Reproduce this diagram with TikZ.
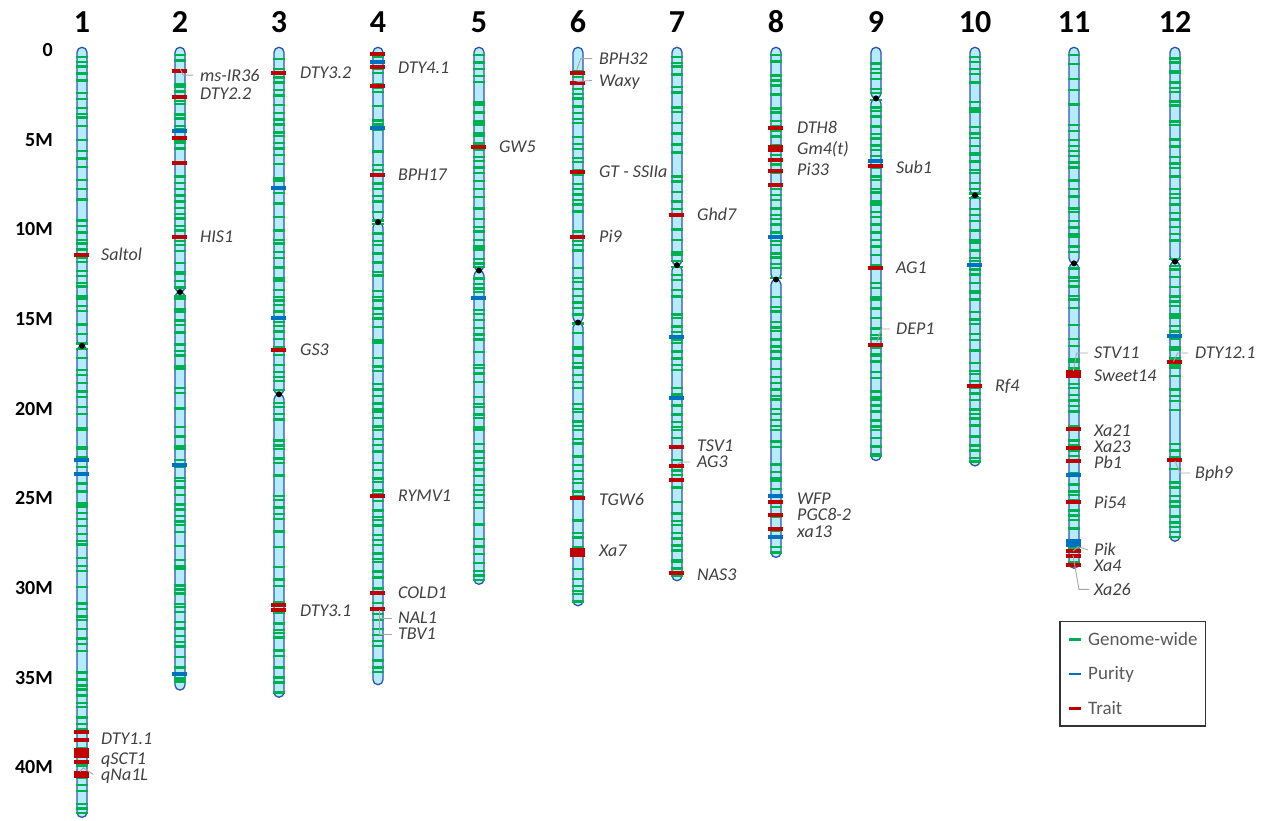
\documentclass[tikz,border=0pt]{standalone}
\usepackage{fontspec}
\setmainfont{Carlito}
\usepackage{tikz}
\usetikzlibrary{positioning}
\definecolor{gwgreen}{RGB}{0,176,80}
\definecolor{purblue}{RGB}{0,112,192}
\definecolor{traitred}{RGB}{192,0,0}
\definecolor{chrfill}{RGB}{180,236,251}
\definecolor{chredge}{RGB}{47,84,170}
\definecolor{labgray}{RGB}{64,64,64}
\definecolor{leggray}{RGB}{89,89,89}
\definecolor{leadgray}{RGB}{166,166,166}
\tikzset{
    arm/.style={
        draw=chredge,
        fill=chrfill,
        line width=1.3pt,
        rounded corners=5pt
    },
    gw/.style={
        draw=gwgreen,
        line width=2.4pt
    },
    pur/.style={
        draw=purblue,
        line width=4pt
    },
    trait/.style={
        draw=traitred,
        line width=4pt
    },
    cen/.style={
        circle,
        fill=black,
        inner sep=0pt,
        minimum size=6pt
    },
    gene/.style={
        anchor=west,
        inner sep=0pt,
        text height=11.9pt,
        text depth=0pt,
        text=labgray,
        font=\fontsize{18}{20}\selectfont\itshape
    },
    leader/.style={
        draw=leadgray,
        line width=0.9pt
    },
    chrnum/.style={
        font=\fontsize{32}{34}\selectfont\bfseries
    },
    axlab/.style={
        anchor=east,
        inner sep=0pt,
        font=\fontsize{20}{22}\selectfont\bfseries
    },
    legbox/.style={
        draw=black!80,
        line width=1.2pt
    },
    legtext/.style={
        anchor=west,
        inner sep=0pt,
        text height=12pt,
        text depth=0pt,
        text=leggray,
        font=\fontsize{19}{21}\selectfont
    }
}
% green markers along a chromosome
\newcommand{\gwticks}[3]{%
    \pgfmathsetseed{#3}
    \foreach \s in {0.2,0.55,...,#2}{
        \pgfmathsetmacro\yy{min(\s+0.3*rnd,#2-0.25)}
        \pgfmathtruncatemacro\keep{rnd>0.2}
        \ifnum\keep=1 \draw[gw] (#1-6,\yy) -- (#1+6,\yy);\fi
    }
}
% number, x, length, centromere, seed
\newcommand{\chrom}[5]{%
    \node[chrnum] (c#1) at (#2,-1.56) {#1};
    \draw[arm] (#2-5,-0.15) rectangle (#2+5,#4);
    \draw[arm] (#2-5,#4) rectangle (#2+5,#3);
    \gwticks{#2}{#3}{#5}
}
\begin{document}
\begin{tikzpicture}[x=1pt,y=-17.93pt]
\path[use as bounding box] (0pt,0pt) rectangle (1270pt,-821pt);
\begin{scope}[yshift=-50pt]

\foreach \m/\t in {0/0,5/5M,10/10M,15/15M,20/20M,25/25M,30/30M,35/35M,40/40M}
    \node[axlab] (ax\m) at (53,\m) {\t};

% 1
\chrom{1}{82}{42.8}{16.5}{11}
\foreach \y in {11.43,38.02,38.48,39.73} \draw[trait] (74,\y) -- (89,\y);
\draw[trait, line width=10.6pt] (74,39.21) -- (89,39.21);
\draw[trait, line width=7pt] (74,40.41) -- (89,40.41);
\foreach \y in {22.87,23.65} \draw[pur] (74,\y) -- (89,\y);
\node[cen] (cen1) at (82,16.5) {};
\node[gene] (saltol) at (101,11.43) {Saltol};
\node[gene] (dty11) at (101,38.4) {DTY1.1};
\node[gene] (qsct1) at (101,39.52) {qSCT1};
\node[gene] (qna1l) at (101,40.4) {qNa1L};
\draw[leader] (80,40.25) -- (83.3,40.03) -- ([xshift=-8pt]qna1l.west);

% 2
\chrom{2}{180}{35.7}{13.5}{22}
\foreach \y in {1.17,2.62,4.89,6.3,10.43} \draw[trait] (172,\y) -- (187,\y);
\foreach \y in {4.52,23.15,34.8} \draw[pur] (172,\y) -- (187,\y);
\node[cen] (cen2) at (180,13.5) {};
\node[gene] (msir36) at (200,1.4) {ms-IR36};
\node[gene] (dty22) at (200,2.45) {DTY2.2};
\node[gene] (his1) at (200,10.43) {HIS1};
\draw[leader] (180.3,1.08) -- (183.3,1.4) -- ([xshift=-7pt]msir36.west);

% 3
\chrom{3}{279}{36.1}{19.2}{33}
\foreach \y in {1.28,16.73,30.95,31.23} \draw[trait] (271,\y) -- (286,\y);
\foreach \y in {7.7,14.95} \draw[pur] (271,\y) -- (286,\y);
\node[cen] (cen3) at (279,19.2) {};
\node[gene] (dty32) at (300,1.28) {DTY3.2};
\node[gene] (gs3) at (300,16.73) {GS3};
\node[gene] (dty31) at (300,31.29) {DTY3.1};

% 4
\chrom{4}{378}{35.4}{9.6}{44}
\foreach \y in {0.22,0.93,1.99,6.97,24.87,30.28,31.18} \draw[trait] (370,\y) -- (385,\y);
\foreach \y in {0.67,4.33} \draw[pur] (370,\y) -- (385,\y);
\node[cen] (cen4) at (378,9.6) {};
\node[gene] (dty41) at (398,1.0) {DTY4.1};
\node[gene] (bph17) at (398,6.97) {BPH17};
\node[gene] (rymv1) at (398,24.87) {RYMV1};
\node[gene] (cold1) at (398,30.28) {COLD1};
\node[gene] (nal1) at (398,31.68) {NAL1};
\node[gene] (tbv1) at (398,32.57) {TBV1};
\draw[leader] (379.3,31.24) |- ([xshift=-6pt]tbv1.west);
\draw[leader] (379.3,31.68) -- ([xshift=-6pt]nal1.west);

% 5
\chrom{5}{479}{29.8}{12.3}{55}
\draw[trait] (471,5.41) -- (486,5.41);
\draw[pur] (471,13.83) -- (486,13.83);
\node[cen] (cen5) at (479,12.3) {};
\node[gene] (gw5) at (499,5.41) {GW5};

% 6
\chrom{6}{578}{31.0}{15.2}{66}
\foreach \y in {1.26,1.82,6.8,10.43,24.99} \draw[trait] (570,\y) -- (585,\y);
\draw[trait, line width=9pt] (570,28.05) -- (585,28.05);
\node[cen] (cen6) at (578,15.2) {};
\node[gene] (bph32) at (599,0.48) {BPH32};
\node[gene] (waxy) at (599,1.7) {Waxy};
\node[gene] (gtssiia) at (599,6.8) {GT - SSIIa};
\node[gene] (pi9) at (599,10.43) {Pi9};
\node[gene] (tgw6) at (599,25.1) {TGW6};
\node[gene] (xa7) at (599,27.94) {Xa7};
\draw[leader] (576.7,1.12) -- (580.7,0.48) -- ([xshift=-7pt]bph32.west);
\draw[leader] (576.7,1.76) -- ([xshift=-7pt]waxy.west);

% 7
\chrom{7}{677}{29.6}{12.0}{77}
\foreach \y in {9.2,22.12,23.18,23.98,29.17} \draw[trait] (669,\y) -- (684,\y);
\foreach \y in {16.0,19.41} \draw[pur] (669,\y) -- (684,\y);
\node[cen] (cen7) at (677,12.0) {};
\node[gene] (ghd7) at (697,9.2) {Ghd7};
\node[gene] (tsv1) at (697,22.06) {TSV1};
\node[gene] (ag3) at (697,22.98) {AG3};
\node[gene] (nas3) at (697,29.28) {NAS3};
\draw[leader] (677.3,23.11) -- (680.7,22.98) -- ([xshift=-7pt]ag3.west);

% 8
\chrom{8}{776}{28.3}{12.8}{88}
\foreach \y in {4.33,6.13,6.75,7.51,25.21,25.92,26.72} \draw[trait] (768,\y) -- (783,\y);
\draw[trait, line width=7pt] (768,5.48) -- (783,5.48);
\foreach \y in {10.43,24.86,27.14} \draw[pur] (768,\y) -- (783,\y);
\node[cen] (cen8) at (776,12.8) {};
\node[gene] (dth8) at (797,4.35) {DTH8};
\node[gene] (gm4t) at (797,5.52) {Gm4(t)};
\node[gene] (pi33) at (797,6.69) {Pi33};
\node[gene] (wfp) at (797,25.0) {WFP};
\node[gene] (pgc82) at (797,25.93) {PGC8-2};
\node[gene] (xa13) at (797,26.83) {xa13};

% 9
\chrom{9}{876}{22.9}{2.7}{99}
\foreach \y in {6.45,12.16,16.45} \draw[trait] (868,\y) -- (883,\y);
\draw[pur] (868,6.17) -- (883,6.17);
\node[cen] (cen9) at (876,2.7) {};
\node[gene] (sub1) at (896,6.58) {Sub1};
\node[gene] (ag1) at (896,12.16) {AG1};
\node[gene] (dep1) at (896,15.56) {DEP1};
\draw[leader] (877,16.3) -- (881,15.56) -- ([xshift=-6pt]dep1.west);

% 10
\chrom{10}{975}{23.2}{8.1}{110}
\draw[trait] (967,18.74) -- (982,18.74);
\draw[pur] (967,11.99) -- (982,11.99);
\node[cen] (cen10) at (975,8.1) {};
\node[gene] (rf4) at (995,18.74) {Rf4};

% 11
\chrom{11}{1074}{28.9}{11.9}{121}
\foreach \y in {21.14,22.21,22.92,25.21,27.92,28.2,28.72} \draw[trait] (1066,\y) -- (1081,\y);
\draw[trait, line width=7.7pt] (1066,18.06) -- (1081,18.06);
\draw[pur] (1066,23.7) -- (1081,23.7);
\draw[pur, line width=7.7pt] (1066,27.49) -- (1081,27.49);
\node[cen] (cen11) at (1074,11.9) {};
\node[gene] (stv11) at (1094,16.9) {STV11};
\node[gene] (sweet14) at (1094,18.13) {Sweet14};
\node[gene] (xa21) at (1094,21.24) {Xa21};
\node[gene] (xa23) at (1094,22.12) {Xa23};
\node[gene] (pb1) at (1094,23.02) {Pb1};
\node[gene] (pi54) at (1094,25.26) {Pi54};
\node[gene] (pik) at (1094,27.88) {Pik};
\node[gene] (xa4) at (1094,28.74) {Xa4};
\node[gene] (xa26) at (1094,30.08) {Xa26};
\draw[leader] (1073.3,17.89) -- (1076.7,16.9) -- ([xshift=-6pt]stv11.west);
\draw[leader] (1073,27.95) -- (1078,27.7) -- ([xshift=-6pt]pik.west);
\draw[leader] (1073,28.17) -- (1079,30.08) -- ([xshift=-5pt]xa26.west);

% 12
\chrom{12}{1175}{27.4}{11.8}{132}
\foreach \y in {17.4,22.87} \draw[trait] (1167,\y) -- (1182,\y);
\draw[pur] (1167,15.95) -- (1182,15.95);
\node[cen] (cen12) at (1175,11.8) {};
\node[gene] (dty121) at (1195,16.9) {DTY12.1};
\node[gene] (bph9) at (1195,23.59) {Bph9};
\draw[leader] (1173.3,17.38) -- (1177.7,16.9) -- ([xshift=-7pt]dty121.west);
\draw[leader] (1175,22.92) -- (1180,23.59) -- ([xshift=-5pt]bph9.west);

% legend
\draw[legbox] (1060,31.89) rectangle (1205.5,37.70);
\draw[gw, line width=2.6pt] (1069,32.87) -- (1081,32.87);
\draw[pur, line width=2.6pt] (1069,34.8) -- (1081,34.8);
\draw[trait, line width=2.6pt] (1069,36.74) -- (1081,36.74);
\node[legtext] (lgw) at (1088,32.87) {Genome-wide};
\node[legtext] (lpur) at (1088,34.8) {Purity};
\node[legtext] (ltrait) at (1088,36.74) {Trait};

\end{scope}
\end{tikzpicture}
\end{document}
